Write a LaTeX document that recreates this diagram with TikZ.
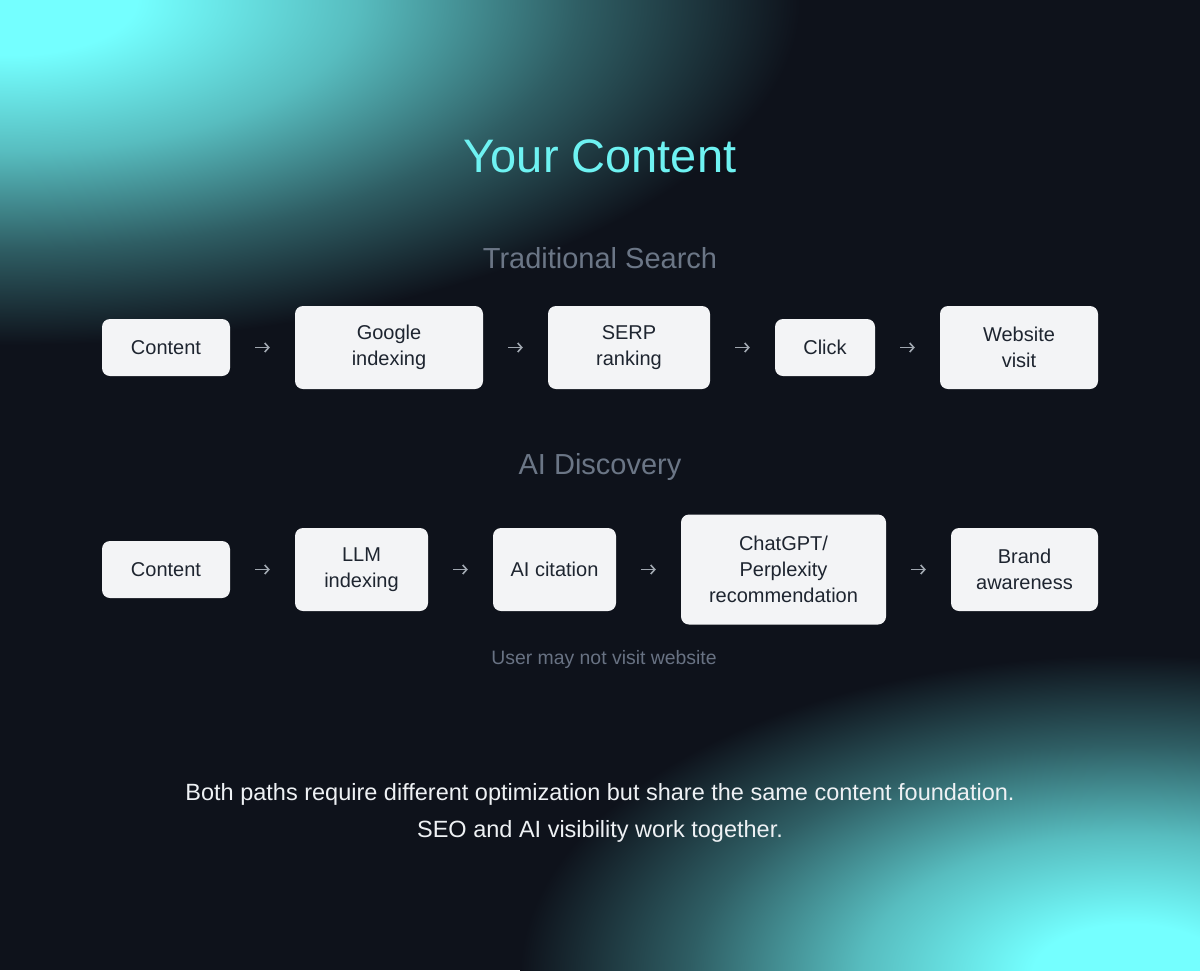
\documentclass[tikz,border=0pt]{standalone}
\usepackage{fontspec}
\setmainfont{Liberation Sans}
\usetikzlibrary{arrows.meta}
\definecolor{bg}{HTML}{0E121B}
\definecolor{glow}{HTML}{74FFFF}
\definecolor{titlec}{HTML}{6EF2F2}
\definecolor{headc}{HTML}{6B7686}
\definecolor{notec}{HTML}{687283}
\definecolor{boxfill}{HTML}{F3F4F6}
\definecolor{boxtext}{HTML}{1E2530}
\definecolor{arrc}{HTML}{A0A7B0}
\definecolor{foot}{HTML}{EEF1F4}
\pgfdeclareradialshading{glowshade}{\pgfpoint{0bp}{0bp}}{%
  color(0bp)=(glow); color(4bp)=(glow); color(11bp)=(glow!72!bg); color(18bp)=(glow!32!bg); color(25bp)=(bg); color(50bp)=(bg)}
\tikzset{
  stepbox/.style={rectangle, rounded corners=8pt, fill=boxfill, text=boxtext,
    font=\fontsize{20}{26}\selectfont, align=center, inner sep=0pt},
  flow/.style={draw=arrc, line width=1.6pt, shorten <=25pt, shorten >=25pt,
    -{Straight Barb[length=4pt,width=9pt,line width=1.6pt]}},
}
\begin{document}
\begin{tikzpicture}[x=1pt,y=-1pt]
\useasboundingbox (0,0) rectangle (1200,970);
\fill[bg] (0,0) rectangle (1200,970);
\begin{scope}
\clip (0,0) rectangle (1200,970);
\shade[shading=glowshade] (10,0) ellipse [x radius=790, y radius=345];
\shade[shading=glowshade] (1130,975) ellipse [x radius=610, y radius=320];
\end{scope}

\node[text=titlec, font=\fontsize{47}{50}\selectfont] (title) at (600,156) {Your Content};
\node[text=headc, font=\fontsize{29}{32}\selectfont] (h1) at (600,258) {Traditional Search};
\node[text=headc, font=\fontsize{29}{32}\selectfont] (h2) at (600,467) {AI Discovery};

% row 1
\node[stepbox, minimum width=128pt, minimum height=57pt] (a1) at (166,347.5) {Content};
\node[stepbox, minimum width=188pt, minimum height=83pt] (a2) at (389,347.5) {Google\\indexing};
\node[stepbox, minimum width=162pt, minimum height=83pt] (a3) at (629,347.5) {SERP\\ranking};
\node[stepbox, minimum width=100pt, minimum height=57pt] (a4) at (825,347.5) {Click};
\node[stepbox, minimum width=158pt, minimum height=83pt] (a5) at (1019,347.5) {Website\\visit};
\draw[flow] (a1.east) -- (a2.west);
\draw[flow] (a2.east) -- (a3.west);
\draw[flow] (a3.east) -- (a4.west);
\draw[flow] (a4.east) -- (a5.west);

% row 2
\node[stepbox, minimum width=128pt, minimum height=57pt] (b1) at (166,569.5) {Content};
\node[stepbox, minimum width=133pt, minimum height=83pt] (b2) at (361.5,569.5) {LLM\\indexing};
\node[stepbox, minimum width=123pt, minimum height=83pt] (b3) at (554.5,569.5) {AI citation};
\node[stepbox, minimum width=205pt, minimum height=110pt] (b4) at (783.5,569.5) {ChatGPT/\\Perplexity\\recommendation};
\node[stepbox, minimum width=147pt, minimum height=83pt] (b5) at (1024.5,569.5) {Brand\\awareness};
\draw[flow] (b1.east) -- (b2.west);
\draw[flow] (b2.east) -- (b3.west);
\draw[flow] (b3.east) -- (b4.west);
\draw[flow] (b4.east) -- (b5.west);

\node[text=notec, font=\fontsize{19.4}{22}\selectfont] (note) at (604,659) {User may not visit website};

\node[text=foot, font=\fontsize{23.5}{37}\selectfont, align=center] (foot) at (600,813)
  {Both paths require different optimization but share the same content foundation.\\SEO and AI visibility work together.};
\end{tikzpicture}
\end{document}
